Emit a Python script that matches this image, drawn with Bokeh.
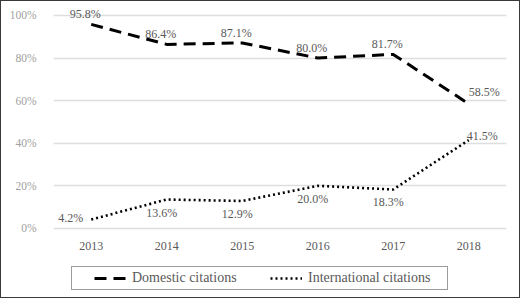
from bokeh.plotting import figure
from bokeh.models import (FactorRange, NumeralTickFormatter, FixedTicker, Legend,
                          LegendItem, ColumnDataSource)
from bokeh.core.properties import value
from bokeh.embed import file_html
from bokeh.resources import INLINE

years = ["2013", "2014", "2015", "2016", "2017", "2018"]
domestic = [95.8, 86.4, 87.1, 80.0, 81.7, 58.5]
international = [4.2, 13.6, 12.9, 20.0, 18.3, 41.5]
y_ticks = [0, 20, 40, 60, 80, 100]

FONT = "Liberation Serif"
LABEL_COLOR = "#595959"

# The frame fills the whole canvas so that value labels, year labels and the
# boxed legend beneath the chart all sit inside it; only 0-100% is gridded.
p = figure(width=520, height=298, x_range=FactorRange(*years, range_padding=0),
           y_range=(-32.4, 105.6), output_backend="svg", toolbar_location=None,
           x_axis_location=None,
           min_border_left=52, min_border_right=15, min_border_top=2,
           min_border_bottom=2)
p.styles = {"border": "1.5px solid #3a3a3a", "box-sizing": "border-box"}
p.outline_line_color = None
p.background_fill_color = "white"

# y axis
p.yaxis.ticker = FixedTicker(ticks=y_ticks)
p.yaxis.formatter = NumeralTickFormatter(format="0")
p.yaxis.major_label_overrides = {v: f"{v}%" for v in y_ticks}
p.yaxis.axis_line_color = None
p.yaxis.major_tick_line_color = None
p.yaxis.minor_tick_line_color = None
p.yaxis.major_label_text_font = FONT
p.yaxis.major_label_text_font_size = "11.5px"
p.yaxis.major_label_text_color = "#a0a0a0"
p.yaxis.major_label_standoff = 11
p.xgrid.grid_line_color = None
p.ygrid.grid_line_color = "#dedede"
p.ygrid.grid_line_width = 1.5

src = ColumnDataSource(dict(
    year=years, dom=domestic, intl=international, base=[0] * len(years),
    dom_txt=[f"{v:.1f}%" for v in domestic],
    intl_txt=[f"{v:.1f}%" for v in international],
))

# year labels under the 0% line
p.text("year", "base", text="year", source=src, text_align="center",
       text_baseline="middle", y_offset=18, text_font=value(FONT),
       text_font_size="12px", text_color=LABEL_COLOR)

r_dom = p.line("year", "dom", source=src, line_color="black", line_width=3,
               line_dash="12 7")
r_int = p.line("year", "intl", source=src, line_color="black", line_width=2.6,
               line_dash="2 3")

# value labels: domestic above the points, the last one up and to the right;
# international below, with the first to the left and the last to the right
n = len(years)
src.data["dom_align"] = ["center"] * (n - 1) + ["left"]
src.data["dom_dx"] = [-6] * (n - 1) + [0]
src.data["dom_dy"] = [-3] * (n - 1) + [-5]
src.data["intl_align"] = ["right"] + ["center"] * (n - 2) + ["left"]
src.data["intl_base"] = ["middle"] + ["top"] * (n - 2) + ["middle"]
src.data["intl_dx"] = [-8] + [-5] * (n - 2) + [-2]
src.data["intl_dy"] = [-2] + [6] * (n - 2) + [-4]

p.text("year", "dom", text="dom_txt", source=src, text_align="dom_align",
       text_baseline="bottom", x_offset="dom_dx", y_offset="dom_dy",
       text_font=value(FONT), text_font_size="12px", text_color=LABEL_COLOR)
p.text("year", "intl", text="intl_txt", source=src, text_align="intl_align",
       text_baseline="intl_base", x_offset="intl_dx", y_offset="intl_dy",
       text_font=value(FONT), text_font_size="12px", text_color=LABEL_COLOR)

# a blank left-side title gives the boxed legend its left inset
legend = Legend(items=[LegendItem(label="Domestic citations", renderers=[r_dom]),
                       LegendItem(label="International citations", renderers=[r_int])],
                orientation="horizontal", location=(18, 7),
                title=" ", title_location="left", title_text_font_size="14px",
                title_standoff=3,
                label_text_font="serif", label_text_font_size="14px",
                label_text_color=LABEL_COLOR, glyph_width=32, glyph_height=14,
                label_height=14, label_width=136, label_standoff=6, spacing=2,
                padding=3, margin=0, border_line_color="#3a3a3a",
                border_line_width=1.2, background_fill_alpha=1)
p.add_layout(legend, "center")

open("out.html", "w").write(file_html(p, INLINE))
